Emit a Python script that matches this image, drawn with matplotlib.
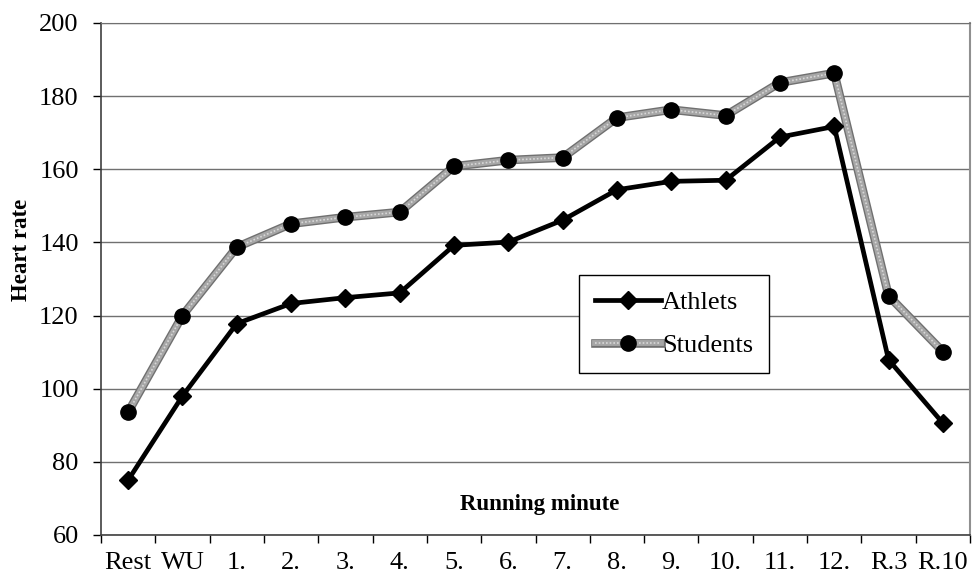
import matplotlib
matplotlib.use("Agg")
import matplotlib.pyplot as plt
import numpy as np
from matplotlib.legend_handler import HandlerTuple

plt.rcParams['font.family'] = ['Liberation Serif', 'DejaVu Serif']

labels = ['Rest', 'WU', '1.', '2.', '3.', '4.', '5.', '6.', '7.', '8.',
          '9.', '10.', '11.', '12.', 'R.3', 'R.10']
athlets = [75, 98, 117.8, 123.3, 124.9, 126.2, 139.2, 140.1, 146.1, 154.4,
           156.7, 157.0, 168.8, 171.7, 107.9, 90.6]
students = [93.6, 120.0, 138.7, 145.1, 146.9, 148.3, 160.8, 162.5, 163.2, 174.1,
            176.3, 174.7, 183.7, 186.3, 125.4, 110.1]

x = np.arange(len(labels))

fig = plt.figure(figsize=(9.72, 5.79), dpi=100)
ax = fig.add_axes([0.1039, 0.076, 0.8941, 0.8843])

ax.set_xlim(-0.5, len(labels) - 0.5)
ax.set_ylim(60, 200)
ax.set_yticks(np.arange(60, 201, 20))
ax.yaxis.grid(True, color='#707070', lw=1)
ax.set_axisbelow(True)

# students: thick textured grey line
s_out, = ax.plot(x, students, color='#707070', lw=6.2, zorder=2)
s_in, = ax.plot(x, students, color='#a6a6a6', lw=4.2, zorder=2)
s_tex, = ax.plot(x, students, color='#d8d8d8', lw=1.2, ls=(0, (1, 1.2)), zorder=2)
s_dot, = ax.plot(x, students, ls='none', marker='o', ms=11, color='black', zorder=3)

a_line, = ax.plot(x, athlets, color='black', lw=3.4, marker='D', ms=9.5, zorder=4)

ax.set_xticks(x)
ax.set_xticklabels(labels)
ax.set_xticks(np.arange(-0.5, len(labels)), minor=True)
ax.tick_params(axis='x', which='major', length=0, pad=12, labelsize=19)
ax.tick_params(axis='x', which='minor', length=6, width=1, direction='out')
ax.tick_params(axis='y', length=6, width=1, direction='out', pad=10, labelsize=19)

for side in ['left', 'bottom']:
    ax.spines[side].set_color('#404040')
    ax.spines[side].set_linewidth(1.2)
ax.spines['right'].set_color('#909090')
ax.spines['right'].set_linewidth(1.5)
ax.spines['top'].set_color('#707070')

ax.set_ylabel('Heart rate', fontsize=16.5, fontweight='bold')
ax.yaxis.set_label_coords(-0.079, 0.557)
ax.text(0.505, 0.059, 'Running minute', transform=ax.transAxes,
        ha='center', va='center', fontsize=16.5, fontweight='bold')

leg = ax.legend([a_line, (s_out, s_in, s_tex, s_dot)], ['Athlets', 'Students'],
                handler_map={tuple: HandlerTuple(ndivide=1, pad=0)},
                loc='upper left', bbox_to_anchor=(0.550, 0.508), borderaxespad=0,
                fontsize=19, handlelength=2.5, handletextpad=0.05,
                fancybox=False, framealpha=1, edgecolor='black',
                borderpad=0.6, labelspacing=0.75)
leg.get_frame().set_linewidth(1.0)

fig.savefig('out.png', dpi=100)
